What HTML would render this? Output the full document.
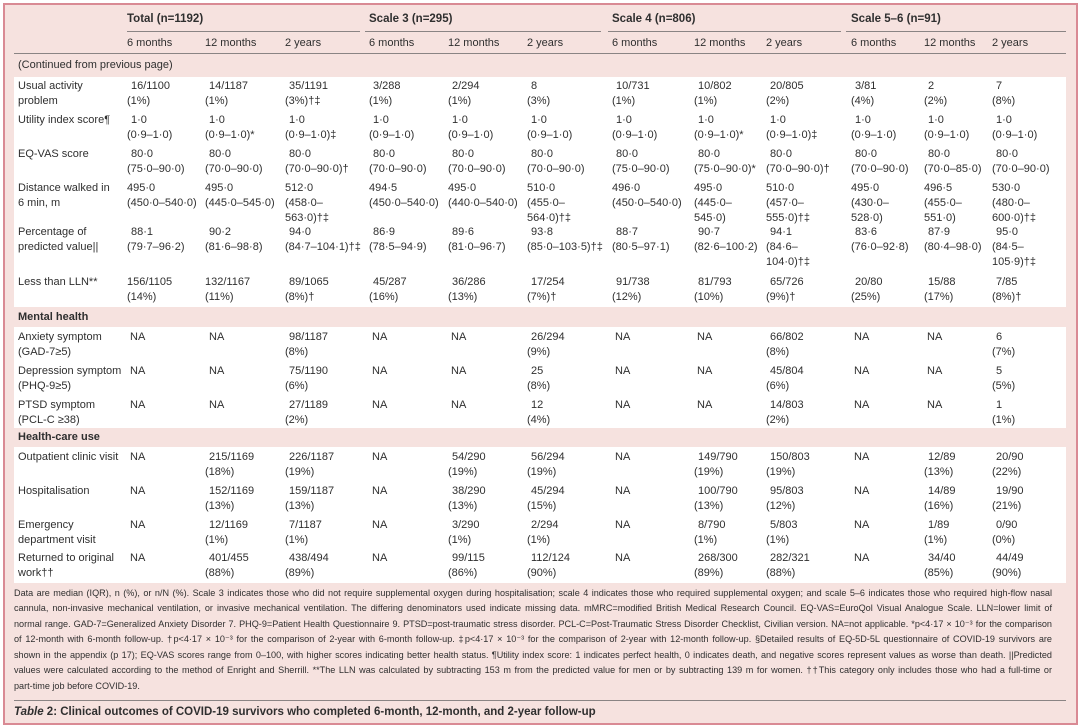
<!DOCTYPE html>
<html><head><meta charset="utf-8"><style>
*{margin:0;padding:0;box-sizing:border-box}
body{width:1080px;height:728px;background:#fff;position:relative;overflow:hidden;font-family:"Liberation Sans",sans-serif;color:#2f2f2f;font-size:11px}
#frame{position:absolute;left:3px;top:3px;width:1075px;height:722px;border:2px solid #d98a94;background:#f6e2df}
.w{position:absolute;left:14px;width:1052px;background:#fff}
.l{position:absolute;height:1px;background:#8a8484}
.c{position:absolute;line-height:15px;white-space:nowrap}
.c i{font-style:normal;padding-left:4px}
.h{font-weight:bold;font-size:11.5px}
.fn{position:absolute;left:14px;width:1038px;font-size:9.1px;line-height:15px;white-space:nowrap;text-align:justify;text-align-last:justify}
.sec{position:absolute;left:18px;font-weight:bold;line-height:15px}
</style></head><body>
<div id="frame"></div>
<div class="w" style="top:77px;height:230px"></div>
<div class="w" style="top:327px;height:101px"></div>
<div class="w" style="top:447px;height:136px"></div>

<div class="c h" style="left:127px;top:12px">Total (n=1192)</div>
<div class="c h" style="left:369px;top:12px">Scale 3 (n=295)</div>
<div class="c h" style="left:612px;top:12px">Scale 4 (n=806)</div>
<div class="c h" style="left:851px;top:12px">Scale 5–6 (n=91)</div>
<div class="l" style="left:127px;width:233px;top:31px"></div>
<div class="l" style="left:365px;width:236px;top:31px"></div>
<div class="l" style="left:608px;width:233px;top:31px"></div>
<div class="l" style="left:846px;width:220px;top:31px"></div>
<div class="c" style="left:127px;top:36px">6 months</div>
<div class="c" style="left:205px;top:36px">12 months</div>
<div class="c" style="left:285px;top:36px">2 years</div>
<div class="c" style="left:369px;top:36px">6 months</div>
<div class="c" style="left:448px;top:36px">12 months</div>
<div class="c" style="left:527px;top:36px">2 years</div>
<div class="c" style="left:612px;top:36px">6 months</div>
<div class="c" style="left:694px;top:36px">12 months</div>
<div class="c" style="left:766px;top:36px">2 years</div>
<div class="c" style="left:851px;top:36px">6 months</div>
<div class="c" style="left:924px;top:36px">12 months</div>
<div class="c" style="left:992px;top:36px">2 years</div>
<div class="l" style="left:14px;width:1052px;top:53px"></div>
<div class="c" style="left:18px;top:58px">(Continued from previous page)</div>

<div class="c" style="left:18px;top:79px">Usual activity<br>problem</div>
<div class="c" style="left:127px;top:79px"><i>16/1100</i><br>(1%)</div>
<div class="c" style="left:205px;top:79px"><i>14/1187</i><br>(1%)</div>
<div class="c" style="left:285px;top:79px"><i>35/1191</i><br>(3%)†‡</div>
<div class="c" style="left:369px;top:79px"><i>3/288</i><br>(1%)</div>
<div class="c" style="left:448px;top:79px"><i>2/294</i><br>(1%)</div>
<div class="c" style="left:527px;top:79px"><i>8</i><br>(3%)</div>
<div class="c" style="left:612px;top:79px"><i>10/731</i><br>(1%)</div>
<div class="c" style="left:694px;top:79px"><i>10/802</i><br>(1%)</div>
<div class="c" style="left:766px;top:79px"><i>20/805</i><br>(2%)</div>
<div class="c" style="left:851px;top:79px"><i>3/81</i><br>(4%)</div>
<div class="c" style="left:924px;top:79px"><i>2</i><br>(2%)</div>
<div class="c" style="left:992px;top:79px"><i>7</i><br>(8%)</div>

<div class="c" style="left:18px;top:113px">Utility index score¶</div>
<div class="c" style="left:127px;top:113px"><i>1·0</i><br>(0·9–1·0)</div>
<div class="c" style="left:205px;top:113px"><i>1·0</i><br>(0·9–1·0)*</div>
<div class="c" style="left:285px;top:113px"><i>1·0</i><br>(0·9–1·0)‡</div>
<div class="c" style="left:369px;top:113px"><i>1·0</i><br>(0·9–1·0)</div>
<div class="c" style="left:448px;top:113px"><i>1·0</i><br>(0·9–1·0)</div>
<div class="c" style="left:527px;top:113px"><i>1·0</i><br>(0·9–1·0)</div>
<div class="c" style="left:612px;top:113px"><i>1·0</i><br>(0·9–1·0)</div>
<div class="c" style="left:694px;top:113px"><i>1·0</i><br>(0·9–1·0)*</div>
<div class="c" style="left:766px;top:113px"><i>1·0</i><br>(0·9–1·0)‡</div>
<div class="c" style="left:851px;top:113px"><i>1·0</i><br>(0·9–1·0)</div>
<div class="c" style="left:924px;top:113px"><i>1·0</i><br>(0·9–1·0)</div>
<div class="c" style="left:992px;top:113px"><i>1·0</i><br>(0·9–1·0)</div>

<div class="c" style="left:18px;top:147px">EQ-VAS score</div>
<div class="c" style="left:127px;top:147px"><i>80·0</i><br>(75·0–90·0)</div>
<div class="c" style="left:205px;top:147px"><i>80·0</i><br>(70·0–90·0)</div>
<div class="c" style="left:285px;top:147px"><i>80·0</i><br>(70·0–90·0)†</div>
<div class="c" style="left:369px;top:147px"><i>80·0</i><br>(70·0–90·0)</div>
<div class="c" style="left:448px;top:147px"><i>80·0</i><br>(70·0–90·0)</div>
<div class="c" style="left:527px;top:147px"><i>80·0</i><br>(70·0–90·0)</div>
<div class="c" style="left:612px;top:147px"><i>80·0</i><br>(75·0–90·0)</div>
<div class="c" style="left:694px;top:147px"><i>80·0</i><br>(75·0–90·0)*</div>
<div class="c" style="left:766px;top:147px"><i>80·0</i><br>(70·0–90·0)†</div>
<div class="c" style="left:851px;top:147px"><i>80·0</i><br>(70·0–90·0)</div>
<div class="c" style="left:924px;top:147px"><i>80·0</i><br>(70·0–85·0)</div>
<div class="c" style="left:992px;top:147px"><i>80·0</i><br>(70·0–90·0)</div>

<div class="c" style="left:18px;top:181px">Distance walked in<br>6 min, m</div>
<div class="c" style="left:127px;top:181px">495·0<br>(450·0–540·0)</div>
<div class="c" style="left:205px;top:181px">495·0<br>(445·0–545·0)</div>
<div class="c" style="left:285px;top:181px">512·0<br>(458·0–<br>563·0)†‡</div>
<div class="c" style="left:369px;top:181px">494·5<br>(450·0–540·0)</div>
<div class="c" style="left:448px;top:181px">495·0<br>(440·0–540·0)</div>
<div class="c" style="left:527px;top:181px">510·0<br>(455·0–<br>564·0)†‡</div>
<div class="c" style="left:612px;top:181px">496·0<br>(450·0–540·0)</div>
<div class="c" style="left:694px;top:181px">495·0<br>(445·0–<br>545·0)</div>
<div class="c" style="left:766px;top:181px">510·0<br>(457·0–<br>555·0)†‡</div>
<div class="c" style="left:851px;top:181px">495·0<br>(430·0–<br>528·0)</div>
<div class="c" style="left:924px;top:181px">496·5<br>(455·0–<br>551·0)</div>
<div class="c" style="left:992px;top:181px">530·0<br>(480·0–<br>600·0)†‡</div>

<div class="c" style="left:18px;top:225px">Percentage of<br>predicted value||</div>
<div class="c" style="left:127px;top:225px"><i>88·1</i><br>(79·7–96·2)</div>
<div class="c" style="left:205px;top:225px"><i>90·2</i><br>(81·6–98·8)</div>
<div class="c" style="left:285px;top:225px"><i>94·0</i><br>(84·7–104·1)†‡</div>
<div class="c" style="left:369px;top:225px"><i>86·9</i><br>(78·5–94·9)</div>
<div class="c" style="left:448px;top:225px"><i>89·6</i><br>(81·0–96·7)</div>
<div class="c" style="left:527px;top:225px"><i>93·8</i><br>(85·0–103·5)†‡</div>
<div class="c" style="left:612px;top:225px"><i>88·7</i><br>(80·5–97·1)</div>
<div class="c" style="left:694px;top:225px"><i>90·7</i><br>(82·6–100·2)</div>
<div class="c" style="left:766px;top:225px"><i>94·1</i><br>(84·6–<br>104·0)†‡</div>
<div class="c" style="left:851px;top:225px"><i>83·6</i><br>(76·0–92·8)</div>
<div class="c" style="left:924px;top:225px"><i>87·9</i><br>(80·4–98·0)</div>
<div class="c" style="left:992px;top:225px"><i>95·0</i><br>(84·5–<br>105·9)†‡</div>

<div class="c" style="left:18px;top:275px">Less than LLN**</div>
<div class="c" style="left:127px;top:275px">156/1105<br>(14%)</div>
<div class="c" style="left:205px;top:275px">132/1167<br>(11%)</div>
<div class="c" style="left:285px;top:275px"><i>89/1065</i><br>(8%)†</div>
<div class="c" style="left:369px;top:275px"><i>45/287</i><br>(16%)</div>
<div class="c" style="left:448px;top:275px"><i>36/286</i><br>(13%)</div>
<div class="c" style="left:527px;top:275px"><i>17/254</i><br>(7%)†</div>
<div class="c" style="left:612px;top:275px"><i>91/738</i><br>(12%)</div>
<div class="c" style="left:694px;top:275px"><i>81/793</i><br>(10%)</div>
<div class="c" style="left:766px;top:275px"><i>65/726</i><br>(9%)†</div>
<div class="c" style="left:851px;top:275px"><i>20/80</i><br>(25%)</div>
<div class="c" style="left:924px;top:275px"><i>15/88</i><br>(17%)</div>
<div class="c" style="left:992px;top:275px"><i>7/85</i><br>(8%)†</div>

<div class="sec" style="top:310px">Mental health</div>

<div class="c" style="left:18px;top:330px">Anxiety symptom<br>(GAD-7≥5)</div>
<div class="c" style="left:130px;top:330px">NA</div>
<div class="c" style="left:209px;top:330px">NA</div>
<div class="c" style="left:285px;top:330px"><i>98/1187</i><br>(8%)</div>
<div class="c" style="left:372px;top:330px">NA</div>
<div class="c" style="left:451px;top:330px">NA</div>
<div class="c" style="left:527px;top:330px"><i>26/294</i><br>(9%)</div>
<div class="c" style="left:615px;top:330px">NA</div>
<div class="c" style="left:697px;top:330px">NA</div>
<div class="c" style="left:766px;top:330px"><i>66/802</i><br>(8%)</div>
<div class="c" style="left:854px;top:330px">NA</div>
<div class="c" style="left:927px;top:330px">NA</div>
<div class="c" style="left:992px;top:330px"><i>6</i><br>(7%)</div>

<div class="c" style="left:18px;top:364px">Depression symptom<br>(PHQ-9≥5)</div>
<div class="c" style="left:130px;top:364px">NA</div>
<div class="c" style="left:209px;top:364px">NA</div>
<div class="c" style="left:285px;top:364px"><i>75/1190</i><br>(6%)</div>
<div class="c" style="left:372px;top:364px">NA</div>
<div class="c" style="left:451px;top:364px">NA</div>
<div class="c" style="left:527px;top:364px"><i>25</i><br>(8%)</div>
<div class="c" style="left:615px;top:364px">NA</div>
<div class="c" style="left:697px;top:364px">NA</div>
<div class="c" style="left:766px;top:364px"><i>45/804</i><br>(6%)</div>
<div class="c" style="left:854px;top:364px">NA</div>
<div class="c" style="left:927px;top:364px">NA</div>
<div class="c" style="left:992px;top:364px"><i>5</i><br>(5%)</div>

<div class="c" style="left:18px;top:398px">PTSD symptom<br>(PCL-C ≥38)</div>
<div class="c" style="left:130px;top:398px">NA</div>
<div class="c" style="left:209px;top:398px">NA</div>
<div class="c" style="left:285px;top:398px"><i>27/1189</i><br>(2%)</div>
<div class="c" style="left:372px;top:398px">NA</div>
<div class="c" style="left:451px;top:398px">NA</div>
<div class="c" style="left:527px;top:398px"><i>12</i><br>(4%)</div>
<div class="c" style="left:615px;top:398px">NA</div>
<div class="c" style="left:697px;top:398px">NA</div>
<div class="c" style="left:766px;top:398px"><i>14/803</i><br>(2%)</div>
<div class="c" style="left:854px;top:398px">NA</div>
<div class="c" style="left:927px;top:398px">NA</div>
<div class="c" style="left:992px;top:398px"><i>1</i><br>(1%)</div>

<div class="sec" style="top:430px">Health-care use</div>

<div class="c" style="left:18px;top:450px">Outpatient clinic visit</div>
<div class="c" style="left:130px;top:450px">NA</div>
<div class="c" style="left:205px;top:450px"><i>215/1169</i><br>(18%)</div>
<div class="c" style="left:285px;top:450px"><i>226/1187</i><br>(19%)</div>
<div class="c" style="left:372px;top:450px">NA</div>
<div class="c" style="left:448px;top:450px"><i>54/290</i><br>(19%)</div>
<div class="c" style="left:527px;top:450px"><i>56/294</i><br>(19%)</div>
<div class="c" style="left:615px;top:450px">NA</div>
<div class="c" style="left:694px;top:450px"><i>149/790</i><br>(19%)</div>
<div class="c" style="left:766px;top:450px"><i>150/803</i><br>(19%)</div>
<div class="c" style="left:854px;top:450px">NA</div>
<div class="c" style="left:924px;top:450px"><i>12/89</i><br>(13%)</div>
<div class="c" style="left:992px;top:450px"><i>20/90</i><br>(22%)</div>

<div class="c" style="left:18px;top:484px">Hospitalisation</div>
<div class="c" style="left:130px;top:484px">NA</div>
<div class="c" style="left:205px;top:484px"><i>152/1169</i><br>(13%)</div>
<div class="c" style="left:285px;top:484px"><i>159/1187</i><br>(13%)</div>
<div class="c" style="left:372px;top:484px">NA</div>
<div class="c" style="left:448px;top:484px"><i>38/290</i><br>(13%)</div>
<div class="c" style="left:527px;top:484px"><i>45/294</i><br>(15%)</div>
<div class="c" style="left:615px;top:484px">NA</div>
<div class="c" style="left:694px;top:484px"><i>100/790</i><br>(13%)</div>
<div class="c" style="left:766px;top:484px"><i>95/803</i><br>(12%)</div>
<div class="c" style="left:854px;top:484px">NA</div>
<div class="c" style="left:924px;top:484px"><i>14/89</i><br>(16%)</div>
<div class="c" style="left:992px;top:484px"><i>19/90</i><br>(21%)</div>

<div class="c" style="left:18px;top:518px">Emergency<br>department visit</div>
<div class="c" style="left:130px;top:518px">NA</div>
<div class="c" style="left:205px;top:518px"><i>12/1169</i><br>(1%)</div>
<div class="c" style="left:285px;top:518px"><i>7/1187</i><br>(1%)</div>
<div class="c" style="left:372px;top:518px">NA</div>
<div class="c" style="left:448px;top:518px"><i>3/290</i><br>(1%)</div>
<div class="c" style="left:527px;top:518px"><i>2/294</i><br>(1%)</div>
<div class="c" style="left:615px;top:518px">NA</div>
<div class="c" style="left:694px;top:518px"><i>8/790</i><br>(1%)</div>
<div class="c" style="left:766px;top:518px"><i>5/803</i><br>(1%)</div>
<div class="c" style="left:854px;top:518px">NA</div>
<div class="c" style="left:924px;top:518px"><i>1/89</i><br>(1%)</div>
<div class="c" style="left:992px;top:518px"><i>0/90</i><br>(0%)</div>

<div class="c" style="left:18px;top:551px">Returned to original<br>work††</div>
<div class="c" style="left:130px;top:551px">NA</div>
<div class="c" style="left:205px;top:551px"><i>401/455</i><br>(88%)</div>
<div class="c" style="left:285px;top:551px"><i>438/494</i><br>(89%)</div>
<div class="c" style="left:372px;top:551px">NA</div>
<div class="c" style="left:448px;top:551px"><i>99/115</i><br>(86%)</div>
<div class="c" style="left:527px;top:551px"><i>112/124</i><br>(90%)</div>
<div class="c" style="left:615px;top:551px">NA</div>
<div class="c" style="left:694px;top:551px"><i>268/300</i><br>(89%)</div>
<div class="c" style="left:766px;top:551px"><i>282/321</i><br>(88%)</div>
<div class="c" style="left:854px;top:551px">NA</div>
<div class="c" style="left:924px;top:551px"><i>34/40</i><br>(85%)</div>
<div class="c" style="left:992px;top:551px"><i>44/49</i><br>(90%)</div>

<div class="fn" style="top:586px">Data are median (IQR), n (%), or n/N (%). Scale 3 indicates those who did not require supplemental oxygen during hospitalisation; scale 4 indicates those who required supplemental oxygen; and scale 5–6 indicates those who required high-flow nasal</div>
<div class="fn" style="top:601px">cannula, non-invasive mechanical ventilation, or invasive mechanical ventilation. The differing denominators used indicate missing data. mMRC=modified British Medical Research Council. EQ-VAS=EuroQol Visual Analogue Scale. LLN=lower limit of</div>
<div class="fn" style="top:617px">normal range. GAD-7=Generalized Anxiety Disorder 7. PHQ-9=Patient Health Questionnaire 9. PTSD=post-traumatic stress disorder. PCL-C=Post-Traumatic Stress Disorder Checklist, Civilian version. NA=not applicable. *p&lt;4·17 × 10⁻³ for the comparison</div>
<div class="fn" style="top:632px">of 12-month with 6-month follow-up. †p&lt;4·17 × 10⁻³ for the comparison of 2-year with 6-month follow-up. ‡p&lt;4·17 × 10⁻³ for the comparison of 2-year with 12-month follow-up. §Detailed results of EQ-5D-5L questionnaire of COVID-19 survivors are</div>
<div class="fn" style="top:648px">shown in the appendix (p 17); EQ-VAS scores range from 0–100, with higher scores indicating better health status. ¶Utility index score: 1 indicates perfect health, 0 indicates death, and negative scores represent values as worse than death. ||Predicted</div>
<div class="fn" style="top:663px">values were calculated according to the method of Enright and Sherrill. **The LLN was calculated by subtracting 153 m from the predicted value for men or by subtracting 139 m for women. ††This category only includes those who had a full-time or</div>
<div class="fn" style="top:679px;text-align:left;text-align-last:left">part-time job before COVID-19.</div>
<div class="l" style="left:14px;width:1052px;top:700px"></div>
<div class="c" style="left:14px;top:705px;font-weight:bold;font-size:11.5px"><span style="font-style:italic">Table</span> 2: Clinical outcomes of COVID-19 survivors who completed 6-month, 12-month, and 2-year follow-up</div>
</body></html>
